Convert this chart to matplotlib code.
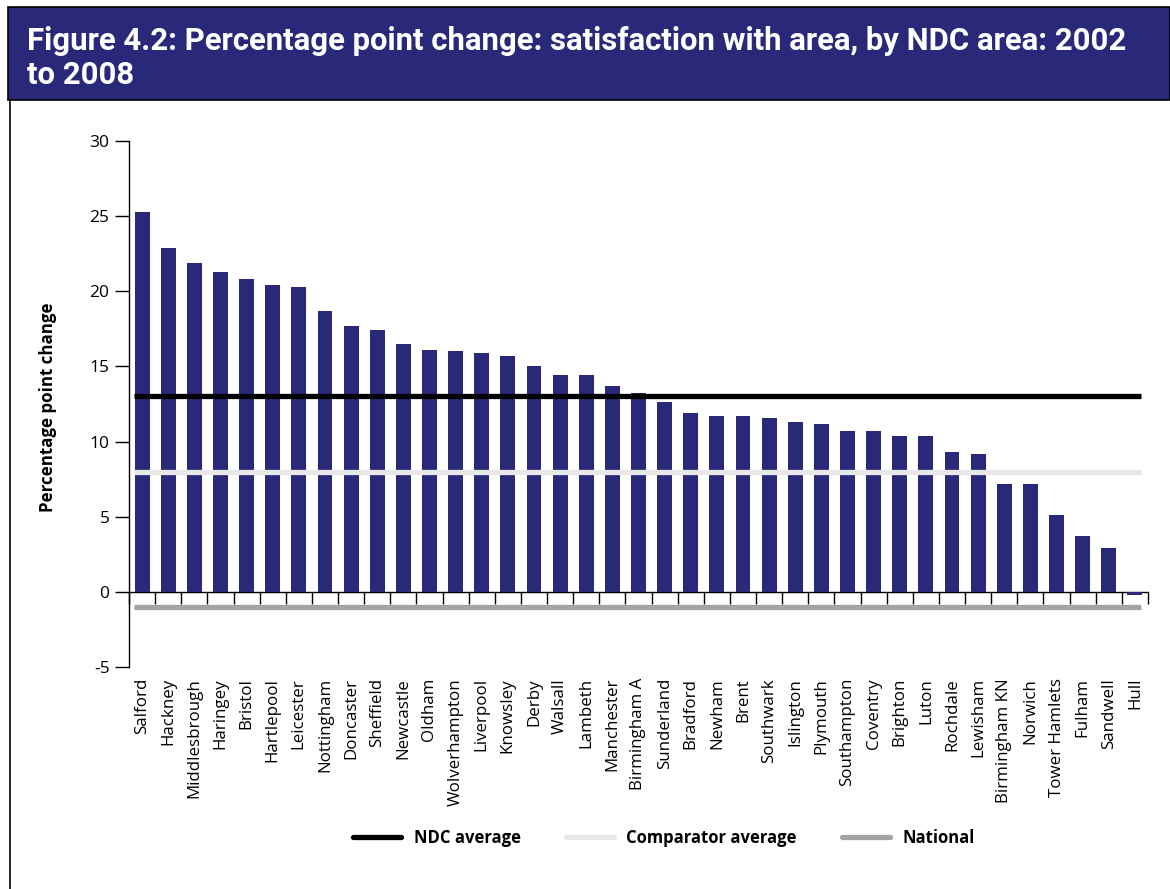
import matplotlib
matplotlib.use("Agg")
import matplotlib.pyplot as plt
from matplotlib import font_manager
from matplotlib.patches import Rectangle
from matplotlib.lines import Line2D
import numpy as np

# NDC areas, ordered by change in satisfaction with area, 2002 to 2008
areas = [
    "Salford", "Hackney", "Middlesbrough", "Haringey", "Bristol", "Hartlepool",
    "Leicester", "Nottingham", "Doncaster", "Sheffield", "Newcastle", "Oldham",
    "Wolverhampton", "Liverpool", "Knowsley", "Derby", "Walsall", "Lambeth",
    "Manchester", "Birmingham A", "Sunderland", "Bradford", "Newham", "Brent",
    "Southwark", "Islington", "Plymouth", "Southampton", "Coventry", "Brighton",
    "Luton", "Rochdale", "Lewisham", "Birmingham KN", "Norwich", "Tower Hamlets",
    "Fulham", "Sandwell", "Hull",
]
change = [
    25.3, 22.9, 21.9, 21.3, 20.8, 20.4,
    20.3, 18.7, 17.7, 17.4, 16.5, 16.1,
    16.0, 15.9, 15.7, 15.0, 14.4, 14.4,
    13.7, 13.2, 12.6, 11.9, 11.7, 11.7,
    11.6, 11.3, 11.2, 10.7, 10.7, 10.4,
    10.4, 9.3, 9.2, 7.2, 7.2, 5.1,
    3.7, 2.9, -0.2,
]
ndc_average = 13.0
comparator_average = 8.0
national = -1.0

y_ticks = [-5, 0, 5, 10, 15, 20, 25, 30]

NAVY = "#2a2979"


def pick_font(candidates):
    for name in candidates:
        try:
            font_manager.findfont(name, fallback_to_default=False)
            return name
        except Exception:
            continue
    return "DejaVu Sans"


body_font = pick_font(["Open Sans", "Noto Sans", "DejaVu Sans"])
title_font = pick_font(["Liberation Sans Narrow", "Roboto", "Open Sans"])
plt.rcParams["font.family"] = body_font
plt.rcParams["axes.unicode_minus"] = False

W, H = 1170, 889
fig = plt.figure(figsize=(W / 100, H / 100), dpi=100)


def fx(px):
    return px / W


def fy(py):
    return 1 - py / H


# Header band and frame
fig.patches.append(Rectangle((fx(8), fy(100)), fx(1170 - 8), fy(7) - fy(100),
                             transform=fig.transFigure, facecolor=NAVY,
                             edgecolor="black", linewidth=1.2, zorder=0))
fig.add_artist(Line2D([fx(10), fx(10)], [fy(100), 0], color="black",
                      linewidth=1.2, transform=fig.transFigure))

title_kw = dict(color="white", fontweight="bold", family=title_font,
                fontsize=23, ha="left", va="baseline")
t1 = fig.text(fx(27), fy(50),
              "Figure 4.2: Percentage point change: satisfaction with area, by NDC area: 2002",
              **title_kw)
t2 = fig.text(fx(27), fy(84), "to 2008", **title_kw)

# Fit the header text to the band width
fig.canvas.draw()
renderer = fig.canvas.get_renderer()
w = t1.get_window_extent(renderer).width
target = 1135 - 27
if w > target:
    s = 23 * target / w
    t1.set_fontsize(s)
    t2.set_fontsize(s)

# Chart area
ax = fig.add_axes([fx(129), fy(667), fx(1148) - fx(129), fy(141) - fy(667)])
x = np.arange(len(areas))
ax.bar(x, change, width=0.57, color=NAVY, zorder=2)

ax.set_xlim(-0.5, len(areas) - 0.5)
ax.set_ylim(-5, 30)
ax.set_yticks(y_ticks)
ax.tick_params(axis="y", direction="out", length=10, width=1, labelsize=12.5,
               pad=4, colors="black")

for side in ("top", "right"):
    ax.spines[side].set_visible(False)
ax.spines["left"].set_linewidth(1)
ax.spines["bottom"].set_position(("data", 0))
ax.spines["bottom"].set_linewidth(1)
ax.spines["bottom"].set_zorder(1)

# Category labels sit under the chart, boundary ticks on the zero line
ax.set_xticks(x)
ax.set_xticklabels(areas, rotation=90, fontsize=12.2)
ax.set_xticks(np.arange(len(areas) + 1) - 0.5, minor=True)
ax.tick_params(axis="x", which="major", length=0, pad=62)
ax.tick_params(axis="x", which="minor", direction="out", length=8.6, width=1)

# Reference lines
line_lw = 3.8
x0, x1 = -0.3, len(areas) - 1 + 0.25
ax.hlines(ndc_average, x0, x1, color="black", linewidth=line_lw, zorder=4)
ax.hlines(comparator_average, x0, x1, color="#e8e8e8", linewidth=line_lw, zorder=4)
ax.hlines(national, x0, x1, color="#a3a3a3", linewidth=line_lw, zorder=4)

fig.text(fx(48), fy(407), "Percentage point change", rotation=90,
         ha="center", va="center", fontsize=12.2, fontweight="bold")

handles = [
    Line2D([], [], color="black", linewidth=line_lw, solid_capstyle="round"),
    Line2D([], [], color="#e8e8e8", linewidth=line_lw, solid_capstyle="round"),
    Line2D([], [], color="#a3a3a3", linewidth=line_lw, solid_capstyle="round"),
]
leg = fig.legend(handles, ["NDC average", "Comparator average", "National"],
                 loc="center", bbox_to_anchor=(fx(664), fy(838)), ncol=3,
                 frameon=False, handlelength=2.9, handletextpad=0.75,
                 columnspacing=2.7, prop={"weight": "bold", "size": 12})

fig.savefig("out.png", dpi=100)
